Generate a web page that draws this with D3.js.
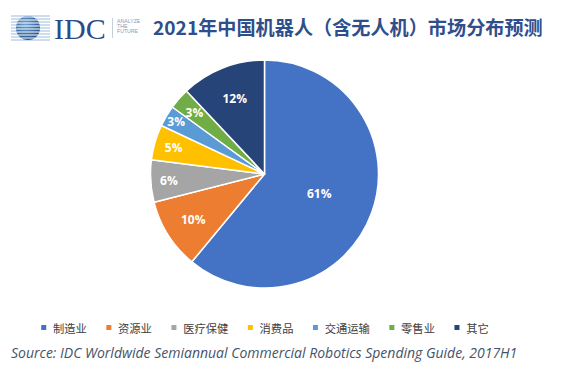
<!DOCTYPE html>
<html><head><meta charset="utf-8">
<script src="https://cdn.jsdelivr.net/npm/d3@7/dist/d3.min.js"></script>
<style>html,body{margin:0;padding:0;background:#fff;}svg{display:block;}</style>
</head><body>
<svg id="c" width="562" height="370"></svg>
<script>
const categories = ["制造业","资源业","医疗保健","消费品","交通运输","零售业","其它"];
const values = [61,10,6,5,3,3,12];
const labels = ["61%","10%","6%","5%","3%","3%","12%"];
const colors = ["#4472C4","#ED7D31","#A5A5A5","#FFC000","#5B9BD5","#70AD47","#264478"];
const labelRadiusFrac = [0.51,0.74,0.84,0.83,0.9,0.82,0.71];
const titleText = "2021年中国机器人（含无人机）市场分布预测";
const sourceText = "Source: IDC Worldwide Semiannual Commercial Robotics Spending Guide, 2017H1";

const svg = d3.select("#c");
const cx = 264.5, cy = 174, R = 114;

// Logo
const logo = svg.append("g");
const defs = svg.append("defs");
const grad = defs.append("radialGradient").attr("id","sph").attr("cx","40%").attr("cy","35%").attr("r","70%");
grad.append("stop").attr("offset","0%").attr("stop-color","#6FA3D6");
grad.append("stop").attr("offset","100%").attr("stop-color","#1F4F8A");
defs.append("clipPath").attr("id","sc").append("circle").attr("cx",28).attr("cy",28).attr("r",12);
d3.range(16,42,3).forEach(y=>{
  logo.append("line").attr("x1",11).attr("x2",50).attr("y1",y).attr("y2",y)
    .attr("stroke","#9DBCDD").attr("stroke-width",1);
});
logo.append("circle").attr("cx",28).attr("cy",28).attr("r",12).attr("fill","url(#sph)");
d3.range(17,42,3).forEach(y=>{
  logo.append("line").attr("x1",14).attr("x2",42).attr("y1",y).attr("y2",y)
    .attr("stroke","#fff").attr("stroke-width",1).attr("clip-path","url(#sc)");
});
logo.append("text").attr("x",54).attr("y",39).text("IDC")
  .attr("font-family","Liberation Serif, serif").attr("font-size",30)
  .attr("fill","#2B4C84");
logo.append("line").attr("x1",112.5).attr("x2",112.5).attr("y1",18).attr("y2",38)
  .attr("stroke","#B8C4D4").attr("stroke-width",0.8);
["ANALYZE","THE","FUTURE"].forEach((t,i)=>{
  logo.append("text").attr("x",117).attr("y",23+i*5).text(t)
    .attr("font-family","Liberation Sans, sans-serif").attr("font-size",5.2)
    .attr("fill","#8A9BB3");
});

// Title
const title = svg.append("text").attr("x",153).attr("y",35).text(titleText)
  .attr("font-family","'Noto Sans CJK SC', sans-serif").attr("font-weight","bold")
  .attr("font-size",19.5).attr("fill","#2F4E8C");
const tw = title.node().getComputedTextLength();
title.attr("font-size",19.5*390/tw);

// Pie
const pie = d3.pie().sort(null).value(d=>d);
const arcs = pie(values);
const arc = d3.arc().innerRadius(0).outerRadius(R);
const g = svg.append("g").attr("transform",`translate(${cx},${cy})`);
g.selectAll("path").data(arcs).join("path")
  .attr("d",arc).attr("fill",(d,i)=>colors[i])
  .attr("stroke","#fff").attr("stroke-width",1.5).attr("stroke-linejoin","round");
g.selectAll("text.lbl").data(arcs).join("text").attr("class","lbl")
  .each(function(d,i){
    const a=(d.startAngle+d.endAngle)/2, r=R*labelRadiusFrac[i];
    d3.select(this).attr("x",Math.sin(a)*r).attr("y",-Math.cos(a)*r);
  })
  .attr("text-anchor","middle").attr("dominant-baseline","central")
  .attr("font-family","'Open Sans', sans-serif").attr("font-weight","bold")
  .attr("font-size",12).attr("fill","#fff")
  .text((d,i)=>labels[i]);

// Legend
const leg = svg.append("g");
const items = leg.selectAll("g").data(categories).join("g");
items.append("rect").attr("width",5).attr("height",5).attr("y",-2.5).attr("fill",(d,i)=>colors[i]);
items.append("text").attr("x",11.7).attr("dominant-baseline","central")
  .attr("font-family","'Noto Sans CJK SC', sans-serif").attr("font-size",11.3)
  .attr("fill","#404040").text(d=>d);
let widths=[];
items.each(function(){ widths.push(11.7+d3.select(this).select("text").node().getComputedTextLength()); });
const gap=19.5;
const total=d3.sum(widths)+gap*(widths.length-1);
let x0=265-total/2;
items.each(function(d,i){ d3.select(this).attr("transform",`translate(${x0},327.5)`); x0+=widths[i]+gap; });

// Source
const src = svg.append("text").attr("x",11).attr("y",358).text(sourceText)
  .attr("font-family","'Open Sans', sans-serif").attr("font-style","italic")
  .attr("font-size",12.5).attr("fill","#44546A");
const w = src.node().getComputedTextLength();
src.attr("font-size",12.5*507/w);
</script>
</body></html>
